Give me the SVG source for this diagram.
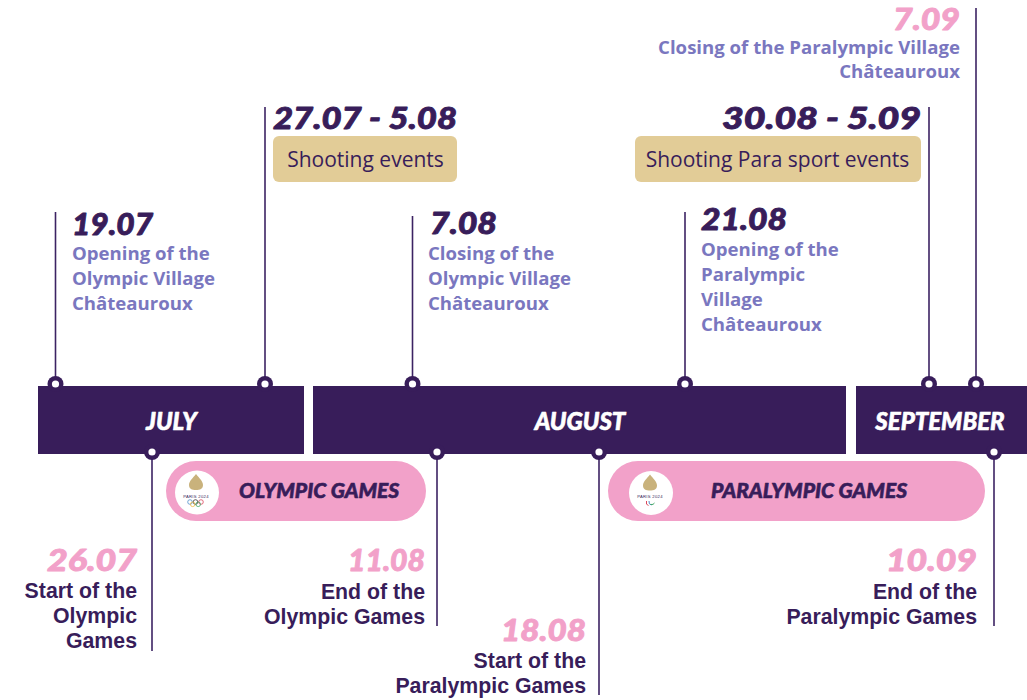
<svg xmlns="http://www.w3.org/2000/svg" width="1027" height="700" viewBox="0 0 1027 700">
<style>
.date{font-family:Lato,"Liberation Sans",sans-serif;font-weight:900;font-style:italic;font-size:30px;stroke-width:0.9;stroke-linejoin:round}
.dk{fill:#381d5a;stroke:#381d5a}
.pk{fill:#f2a1c9;stroke:#f2a1c9}
.lav{font-family:"Open Sans","Liberation Sans",sans-serif;font-weight:700;font-size:18.6px;fill:#7a77bf}
.desc{font-family:"Liberation Sans",Arial,sans-serif;font-weight:700;font-size:21.3px;fill:#381d5a;text-anchor:end}
.month{font-family:Lato,"Liberation Sans",sans-serif;font-weight:900;font-style:italic;font-size:24px;fill:#ffffff;stroke:#ffffff;stroke-width:0.6;stroke-linejoin:round;text-anchor:middle}
.pillt{font-family:Lato,"Liberation Sans",sans-serif;font-weight:900;font-style:italic;font-size:21px;fill:#381d5a;stroke:#381d5a;stroke-width:0.6;stroke-linejoin:round}
.boxt{font-family:"Open Sans","Liberation Sans",sans-serif;font-weight:400;font-size:21px;fill:#381d5a;text-anchor:middle}
.bar{fill:#381d5a}
.gold{fill:#e2cc97}
.pill{fill:#f2a1c9}
.ln{stroke:#3c2363;stroke-width:1.6;fill:none}
.dotO{fill:#381d5a}
.dotI{fill:#ffffff}
.flame{fill:#c9b27c}
.tiny{font-family:"Liberation Sans",sans-serif;font-size:4.2px;fill:#381d5a;text-anchor:middle;letter-spacing:0.3px}
</style>
<defs>
<g id="dot"><circle r="8" class="dotO"/><circle r="3.6" class="dotI"/></g>
<path id="flm" d="M0,-19 C3,-15 7,-12 7,-8 C7,-4 4,-3 0,-3 C-4,-3 -7,-4 -7,-8 C-7,-12 -3,-15 0,-19 Z"/>
</defs>
<rect width="1027" height="700" fill="#ffffff"/>

<g id="connectors">
<line class="ln" x1="55.5" y1="212" x2="55.5" y2="384"/>
<line class="ln" x1="265" y1="107" x2="265" y2="384"/>
<line class="ln" x1="412.5" y1="216" x2="412.5" y2="384"/>
<line class="ln" x1="685" y1="212" x2="685" y2="384"/>
<line class="ln" x1="929" y1="107" x2="929" y2="384"/>
<line class="ln" x1="976" y1="8" x2="976" y2="384"/>
<line class="ln" x1="152" y1="452" x2="152" y2="651"/>
<line class="ln" x1="437" y1="452" x2="437" y2="626"/>
<line class="ln" x1="599" y1="452" x2="599" y2="695"/>
<line class="ln" x1="994" y1="452" x2="994" y2="626"/>
</g>

<g id="month-july"><rect class="bar" x="38" y="386" width="266" height="68"/><text class="month" x="171.5" y="429.5">JULY</text></g>
<g id="month-august"><rect class="bar" x="313" y="386" width="533" height="68"/><text class="month" x="580" y="429.5">AUGUST</text></g>
<g id="month-september"><rect class="bar" x="856" y="386" width="171" height="68"/><text class="month" x="940" y="429.5">SEPTEMBER</text></g>

<g id="connector-dots">
<use href="#dot" x="55.5" y="384"/>
<use href="#dot" x="265" y="384"/>
<use href="#dot" x="412.5" y="384"/>
<use href="#dot" x="685" y="384"/>
<use href="#dot" x="929" y="384"/>
<use href="#dot" x="976" y="384"/>
<use href="#dot" x="152" y="452"/>
<use href="#dot" x="437" y="452"/>
<use href="#dot" x="599" y="452"/>
<use href="#dot" x="994" y="452"/>
</g>

<g id="pill-olympic">
<rect class="pill" x="166" y="461" width="260" height="60" rx="30"/>
<circle cx="197" cy="492.5" r="22" fill="#ffffff"/>
<use href="#flm" class="flame" x="196" y="493"/>
<text class="tiny" x="196" y="497.5">PARIS 2024</text>
<g fill="none" stroke-width="0.7">
<circle cx="190" cy="502" r="2.3" stroke="#3b82c4"/>
<circle cx="195.5" cy="502" r="2.3" stroke="#222222"/>
<circle cx="201" cy="502" r="2.3" stroke="#d8344a"/>
<circle cx="192.7" cy="504.3" r="2.3" stroke="#f2b431"/>
<circle cx="198.2" cy="504.3" r="2.3" stroke="#2f9e55"/>
</g>
<text class="pillt" x="239" y="498">OLYMPIC GAMES</text>
</g>

<g id="pill-paralympic">
<rect class="pill" x="608" y="461" width="377" height="60" rx="30"/>
<circle cx="651" cy="493" r="22" fill="#ffffff"/>
<use href="#flm" class="flame" x="650" y="493.5"/>
<text class="tiny" x="650" y="498">PARIS 2024</text>
<g fill="none" stroke-width="0.9">
<path d="M646.5,501 Q645.5,505 648.5,505.5" stroke="#d8344a"/>
<path d="M649,501 Q648.5,504.5 651.5,505" stroke="#3b82c4"/>
<path d="M650.5,504.5 Q653.5,505 654.5,503" stroke="#2f9e55"/>
</g>
<text class="pillt" x="711" y="498">PARALYMPIC GAMES</text>
</g>

<g id="event-1907">
<text class="date dk" x="72" y="235" textLength="81" lengthAdjust="spacingAndGlyphs">19.07</text>
<text class="lav" x="72" y="260">Opening of the</text>
<text class="lav" x="72" y="285">Olympic Village</text>
<text class="lav" x="72" y="310">Châteauroux</text>
</g>

<g id="event-shooting">
<text class="date dk" x="273" y="129" textLength="184" lengthAdjust="spacingAndGlyphs">27.07 - 5.08</text>
<rect class="gold" x="273" y="136" width="184" height="46" rx="6"/>
<text class="boxt" x="365.5" y="167">Shooting events</text>
</g>

<g id="event-0708">
<text class="date dk" x="430" y="234" textLength="67" lengthAdjust="spacingAndGlyphs">7.08</text>
<text class="lav" x="428" y="260">Closing of the</text>
<text class="lav" x="428" y="285">Olympic Village</text>
<text class="lav" x="428" y="310">Châteauroux</text>
</g>

<g id="event-2108">
<text class="date dk" x="701" y="230" textLength="86" lengthAdjust="spacingAndGlyphs">21.08</text>
<text class="lav" x="701" y="256">Opening of the</text>
<text class="lav" x="701" y="281">Paralympic</text>
<text class="lav" x="701" y="306">Village</text>
<text class="lav" x="701" y="331">Châteauroux</text>
</g>

<g id="event-para-shooting">
<text class="date dk" x="722" y="129" textLength="199" lengthAdjust="spacingAndGlyphs">30.08 - 5.09</text>
<rect class="gold" x="635" y="136" width="286" height="46" rx="6"/>
<text class="boxt" x="777.5" y="167">Shooting Para sport events</text>
</g>

<g id="event-0709">
<text class="date pk" x="893" y="30" textLength="67" lengthAdjust="spacingAndGlyphs">7.09</text>
<text class="lav" x="960" y="53.5" text-anchor="end">Closing of the Paralympic Village</text>
<text class="lav" x="960" y="78" text-anchor="end">Châteauroux</text>
</g>

<g id="event-2607">
<text class="date pk" x="47" y="571" textLength="90" lengthAdjust="spacingAndGlyphs">26.07</text>
<text class="desc" x="137" y="598">Start of the</text>
<text class="desc" x="137" y="623">Olympic</text>
<text class="desc" x="137" y="648">Games</text>
</g>

<g id="event-1108">
<text class="date pk" x="348" y="571" textLength="77" lengthAdjust="spacingAndGlyphs">11.08</text>
<text class="desc" x="425" y="599">End of the</text>
<text class="desc" x="425" y="624">Olympic Games</text>
</g>

<g id="event-1808">
<text class="date pk" x="501" y="641" textLength="85" lengthAdjust="spacingAndGlyphs">18.08</text>
<text class="desc" x="586" y="668">Start of the</text>
<text class="desc" x="586" y="693">Paralympic Games</text>
</g>

<g id="event-1009">
<text class="date pk" x="886" y="571" textLength="91" lengthAdjust="spacingAndGlyphs">10.09</text>
<text class="desc" x="977" y="599">End of the</text>
<text class="desc" x="977" y="624">Paralympic Games</text>
</g>
</svg>
